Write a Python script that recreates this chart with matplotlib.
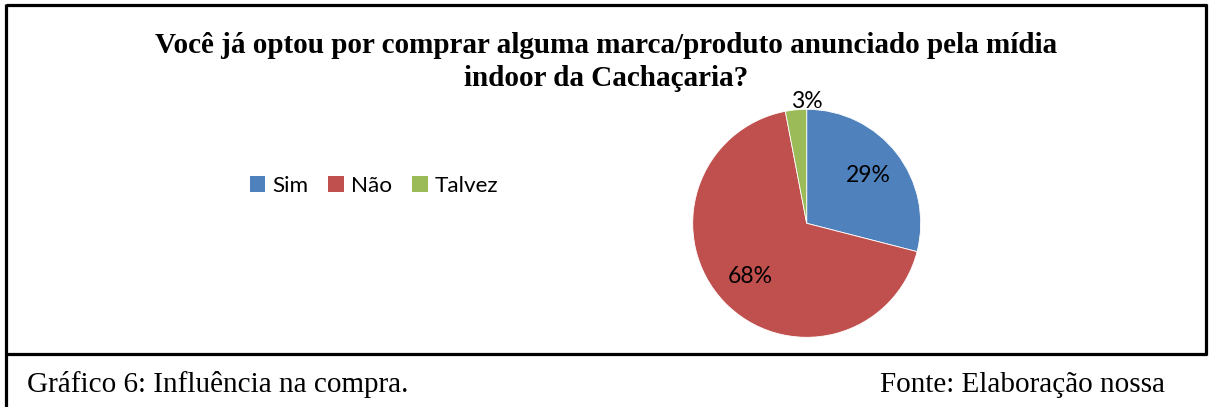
import matplotlib
matplotlib.use("Agg")
import matplotlib.pyplot as plt
from matplotlib.lines import Line2D
from matplotlib.patches import Patch

W, H = 1209, 407
categories = ["Sim", "Não", "Talvez"]
values = [29, 68, 3]
colors = ["#4F81BD", "#C0504D", "#9BBB59"]
title = "Você já optou por comprar alguma marca/produto anunciado pela mídia\nindoor da Cachaçaria?"
caption_left = "Gráfico 6: Influência na compra."
caption_right = "Fonte: Elaboração nossa"

fig = plt.figure(figsize=(W / 100, H / 100), dpi=100)

def fx(px):
    return px / W

def fy(py):
    return 1 - py / H

# frame around the chart
lw = 3.2 * 72 / 100
for xs, ys in [((5.5, 1206.5), (5, 5)), ((5.5, 1206.5), (354, 354)),
               ((6, 6), (4, 407)), ((1206, 1206), (4, 355))]:
    fig.add_artist(Line2D([fx(x) for x in xs], [fy(y) for y in ys],
                          color="black", lw=lw, solid_capstyle="butt"))

# pie
cx, cy, r = 806.7, 223.3, 114
ax = fig.add_axes([fx(cx - r), fy(cy + r), 2 * r / W, 2 * r / H])
wedges, texts, autotexts = ax.pie(values, colors=colors, startangle=90, counterclock=False,
                                  autopct="%d%%", pctdistance=0.68,
                                  wedgeprops=dict(edgecolor="white", linewidth=0.6),
                                  textprops=dict(family="Lato", fontsize=16.5, color="black"))
ax.set_xlim(-1, 1)
ax.set_ylim(-1, 1)
ax.set_aspect("equal")
# small slice label sits outside above the pie
autotexts[2].set_position((0.0, 1.07))
autotexts[2].set_va("center")

fig.text(fx(606), fy(62), title, ha="center", va="center", family="Liberation Serif",
         fontweight="bold", fontsize=21, linespacing=1.3)

handles = [Patch(facecolor=c) for c in colors]
fig.legend(handles, categories, loc="center", bbox_to_anchor=(fx(374), fy(186)), ncol=3,
           frameon=False, handlelength=0.7, handleheight=0.7, handletextpad=0.3,
           columnspacing=0.9, prop=dict(family="Lato", size=16.2))

fig.text(fx(27), fy(385), caption_left, ha="left", va="center",
         family="Liberation Serif", fontsize=21)
fig.text(fx(1165), fy(385), caption_right, ha="right", va="center",
         family="Liberation Serif", fontsize=21)

fig.savefig("out.png", dpi=100)
